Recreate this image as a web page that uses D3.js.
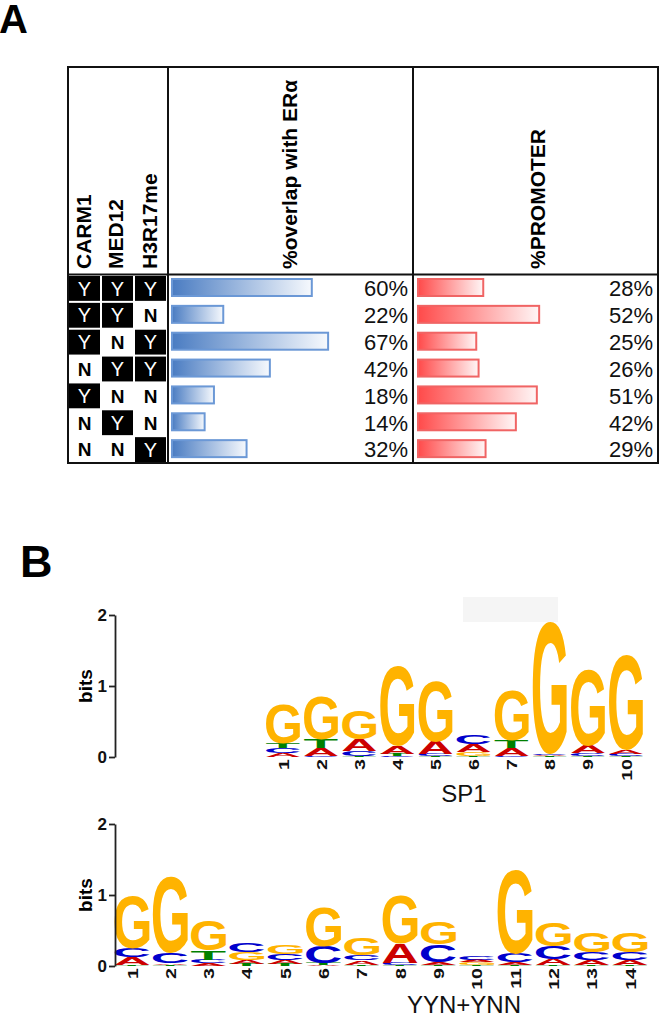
<!DOCTYPE html>
<html>
<head>
<meta charset="utf-8">
<script src="https://cdn.jsdelivr.net/npm/d3@7"></script>
<style>
  html, body { margin: 0; padding: 0; background: #fff; }
  svg { display: block; font-family: "Liberation Sans", Arial, sans-serif; }
</style>
</head>
<body>
<svg id="fig" width="661" height="1015"></svg>
<script>
// ---------------- DATA ----------------
const markerNames = ["CARM1", "MED12", "H3R17me"];
const carm1 = ["Y", "Y", "Y", "N", "Y", "N", "N"];
const med12 = ["Y", "Y", "N", "Y", "N", "Y", "N"];
const h3r17me = ["Y", "N", "Y", "Y", "N", "N", "Y"];
const columnTitles = ["%overlap with ERα", "%PROMOTER"];
const overlapERa = [60, 22, 67, 42, 18, 14, 32];
const promoterPct = [28, 52, 25, 26, 51, 42, 29];

const bitsTicks = [0, 1, 2];

const sp1Positions = [1, 2, 3, 4, 5, 6, 7, 8, 9, 10];
const sp1A = [0.06, 0.11, 0.17, 0.11, 0.18, 0.11, 0.10, 0.02, 0.11, 0.05];
const sp1C = [0.065, 0.02, 0.07, 0.01, 0.03, 0.12, 0.02, 0.02, 0.04, 0.03];
const sp1G = [0.55, 0.61, 0.41, 1.14, 0.86, 0.05, 0.70, 1.85, 1.07, 1.34];
const sp1T = [0.07, 0.12, 0.01, 0.03, 0.01, 0.02, 0.11, 0.01, 0.01, 0.01];
const sp1Title = "SP1";

const yynPositions = [1, 2, 3, 4, 5, 6, 7, 8, 9, 10, 11, 12, 13, 14];
const yynA = [0.11, 0.02, 0.04, 0.05, 0.05, 0.01, 0.06, 0.28, 0.04, 0.04, 0.04, 0.08, 0.07, 0.07];
const yynC = [0.13, 0.15, 0.05, 0.12, 0.09, 0.23, 0.07, 0.03, 0.24, 0.06, 0.12, 0.18, 0.10, 0.10];
const yynG = [0.75, 1.07, 0.42, 0.11, 0.13, 0.56, 0.24, 0.69, 0.31, 0.03, 1.18, 0.34, 0.28, 0.28];
const yynT = [0.01, 0.015, 0.13, 0.03, 0.03, 0.03, 0.02, 0.01, 0.02, 0.02, 0.01, 0.02, 0.02, 0.02];
const yynTitle = "YYN+YNN";

const baseColors = { A: "#CC0000", C: "#0000CC", G: "#FFB300", T: "#008000" };

// ---------------- DRAW ----------------
const svg = d3.select("#fig");
const defs = svg.append("defs");

function grad(id, c0, c1) {
  const g = defs.append("linearGradient").attr("id", id)
    .attr("x1", "0%").attr("x2", "100%").attr("y1", "0%").attr("y2", "0%");
  g.append("stop").attr("offset", "0%").attr("stop-color", c0);
  g.append("stop").attr("offset", "100%").attr("stop-color", c1);
}
grad("gBlue", "#4a7cc2", "#f6f9fd");
grad("gRed", "#ff4a4a", "#fff6f6");

// panel letters
svg.append("text").attr("x", -1).attr("y", 33).attr("font-size", 40).attr("font-weight", "bold").text("A");
svg.append("text").attr("x", 20).attr("y", 577).attr("font-size", 45).attr("font-weight", "bold").text("B");

// ---- Panel A table ----
const T = { left: 68, top: 67, right: 658, bottom: 463, headBottom: 274.5, c1: 168, c2: 413 };
const rows = d3.scaleBand().domain(d3.range(overlapERa.length)).range([T.headBottom + 0.5, T.bottom]);
const markerX = d3.scaleBand().domain(markerNames).range([T.left, T.c1 - 1]);
const markerData = [carm1, med12, h3r17me];

const tbl = svg.append("g");
markerNames.forEach((m, j) => {
  markerData[j].forEach((v, i) => {
    const x = markerX(m), y = rows(i), w = markerX.bandwidth(), h = rows.bandwidth();
    if (v === "Y") {
      tbl.append("rect").attr("x", x + (j === 0 ? 0 : 1)).attr("y", y + 1)
        .attr("width", w - (j === 0 ? 1 : 2)).attr("height", h - 2).attr("fill", "#000");
    }
    tbl.append("text").attr("x", x + w / 2).attr("y", y + h / 2).attr("dy", "0.36em")
      .attr("text-anchor", "middle")
      .attr("font-size", v === "Y" ? 20 : 19)
      .attr("font-weight", v === "Y" ? "normal" : "bold")
      .attr("fill", v === "Y" ? "#fff" : "#000")
      .text(v);
  });
});

const headBaselines = [91, 123, 157];
markerNames.forEach((m, j) => {
  tbl.append("text").attr("transform", `translate(${headBaselines[j]},269) rotate(-90)`)
    .attr("font-size", 21).attr("font-weight", "bold").text(m);
});
tbl.append("text").attr("transform", `translate(297,269) rotate(-90)`)
  .attr("font-size", 21).attr("font-weight", "bold").text(columnTitles[0]);
tbl.append("text").attr("transform", `translate(545,269) rotate(-90)`)
  .attr("font-size", 21).attr("font-weight", "bold").text(columnTitles[1]);

const xBlue = d3.scaleLinear().domain([0, 100]).range([172, 405]);
const xRed = d3.scaleLinear().domain([0, 100]).range([418, 651]);

tbl.selectAll("rect.blue").data(overlapERa).join("rect").attr("class", "blue")
  .attr("x", xBlue(0)).attr("y", (d, i) => rows(i) + 4)
  .attr("width", d => xBlue(d) - xBlue(0)).attr("height", 17)
  .attr("fill", "url(#gBlue)").attr("stroke", "#6b98d6").attr("stroke-width", 2);
tbl.selectAll("text.blue").data(overlapERa).join("text").attr("class", "blue")
  .attr("x", 408).attr("y", (d, i) => rows(i) + rows.bandwidth() / 2).attr("dy", "0.36em")
  .attr("text-anchor", "end").attr("font-size", 22).attr("fill", "#111").text(d => d + "%");

tbl.selectAll("rect.red").data(promoterPct).join("rect").attr("class", "red")
  .attr("x", xRed(0)).attr("y", (d, i) => rows(i) + 4)
  .attr("width", d => xRed(d) - xRed(0)).attr("height", 17)
  .attr("fill", "url(#gRed)").attr("stroke", "#f06464").attr("stroke-width", 2);
tbl.selectAll("text.red").data(promoterPct).join("text").attr("class", "red")
  .attr("x", 653).attr("y", (d, i) => rows(i) + rows.bandwidth() / 2).attr("dy", "0.36em")
  .attr("text-anchor", "end").attr("font-size", 22).attr("fill", "#111").text(d => d + "%");

const lineStyle = sel => sel.attr("stroke", "#111").attr("stroke-width", 2).attr("fill", "none");
tbl.append("rect").attr("x", T.left).attr("y", T.top).attr("width", T.right - T.left).attr("height", T.bottom - T.top).call(lineStyle);
tbl.append("line").attr("x1", T.c1).attr("x2", T.c1).attr("y1", T.top).attr("y2", T.bottom).call(lineStyle);
tbl.append("line").attr("x1", T.c2).attr("x2", T.c2).attr("y1", T.top).attr("y2", T.bottom).call(lineStyle);
tbl.append("line").attr("x1", T.left).attr("x2", T.right).attr("y1", T.headBottom).attr("y2", T.headBottom).call(lineStyle);

// ---- Panel B logos ----
const canvas = document.createElement("canvas");
const ctx = canvas.getContext("2d");
const FS = 100;
ctx.font = `bold ${FS}px "Liberation Sans"`;
const ink = {};
["A", "C", "G", "T"].forEach(b => {
  const m = ctx.measureText(b);
  ink[b] = { l: m.actualBoundingBoxLeft, r: m.actualBoundingBoxRight, a: m.actualBoundingBoxAscent, d: m.actualBoundingBoxDescent };
});

svg.append("rect").attr("x", 463).attr("y", 597).attr("width", 95).attr("height", 25).attr("fill", "#f5f5f5");

function drawLogo(cfg) {
  const g = svg.append("g");
  const y = d3.scaleLinear().domain([0, 2]).range([cfg.y0, cfg.y2]);
  const x = d3.scaleLinear().domain([cfg.positions[0], cfg.positions[cfg.positions.length - 1]]).range(cfg.xr);
  const letterW = cfg.letterW;
  cfg.positions.forEach((p, i) => {
    const stack = [
      { b: "A", h: cfg.A[i] }, { b: "C", h: cfg.C[i] }, { b: "G", h: cfg.G[i] }, { b: "T", h: cfg.T[i] }
    ].sort((a, b) => a.h - b.h);
    let cum = 0;
    stack.forEach(s => {
      const yb = y(cum), yt = y(cum + s.h);
      cum += s.h;
      const h = yb - yt;
      if (h <= 0.05) return;
      const k = ink[s.b];
      const iw = k.l + k.r, ih = k.a + k.d;
      const x0 = x(p) - letterW / 2;
      g.append("text")
        .attr("transform", `translate(${x0},${yt}) scale(${letterW / iw},${h / ih}) translate(${k.l},${k.a})`)
        .attr("font-size", FS).attr("font-weight", "bold").attr("fill", baseColors[s.b])
        .text(s.b);
    });
  });
  const ax = g.append("g").attr("transform", `translate(115,0)`)
    .call(d3.axisLeft(y).tickValues(bitsTicks).tickFormat(d3.format("d")).tickSize(6).tickSizeOuter(0).tickPadding(2));
  ax.select(".domain").attr("stroke", "#222").attr("stroke-width", 1.8);
  ax.selectAll(".tick line").attr("stroke", "#222").attr("stroke-width", 1.8);
  ax.selectAll(".tick text").attr("font-size", 17).attr("font-weight", "bold").attr("fill", "#111")
    .attr("font-family", '"Liberation Sans", Arial, sans-serif');
  g.append("text").attr("transform", `translate(92,${y(1)}) rotate(-90)`)
    .attr("text-anchor", "middle").attr("font-size", 19).attr("font-weight", "bold").text("bits");
  const bx = g.append("g").attr("transform", `translate(0,${cfg.labelY})`)
    .call(d3.axisBottom(x).tickValues(cfg.positions).tickSize(0).tickFormat(d3.format("d")));
  bx.select(".domain").remove();
  bx.selectAll(".tick text")
    .attr("transform", "rotate(-90) scale(1.4,1)")
    .attr("text-anchor", "end").attr("x", 0).attr("y", 0).attr("dx", 0).attr("dy", "0.36em")
    .attr("font-size", 14).attr("font-weight", "bold").attr("fill", "#111")
    .attr("font-family", '"Liberation Sans", Arial, sans-serif');
  g.append("text").attr("x", cfg.titleX).attr("y", cfg.titleY).attr("text-anchor", "middle")
    .attr("font-size", 24).attr("fill", "#111").text(cfg.title);
}

drawLogo({ positions: sp1Positions, A: sp1A, C: sp1C, G: sp1G, T: sp1T,
  y0: 757, y2: 615, xr: [283, 626], letterW: 34, labelY: 759, title: sp1Title, titleX: 464, titleY: 802 });
drawLogo({ positions: yynPositions, A: yynA, C: yynC, G: yynG, T: yynT,
  y0: 966, y2: 824, xr: [132, 630], letterW: 35, labelY: 968, title: yynTitle, titleX: 464, titleY: 1013 });
</script>
</body>
</html>
